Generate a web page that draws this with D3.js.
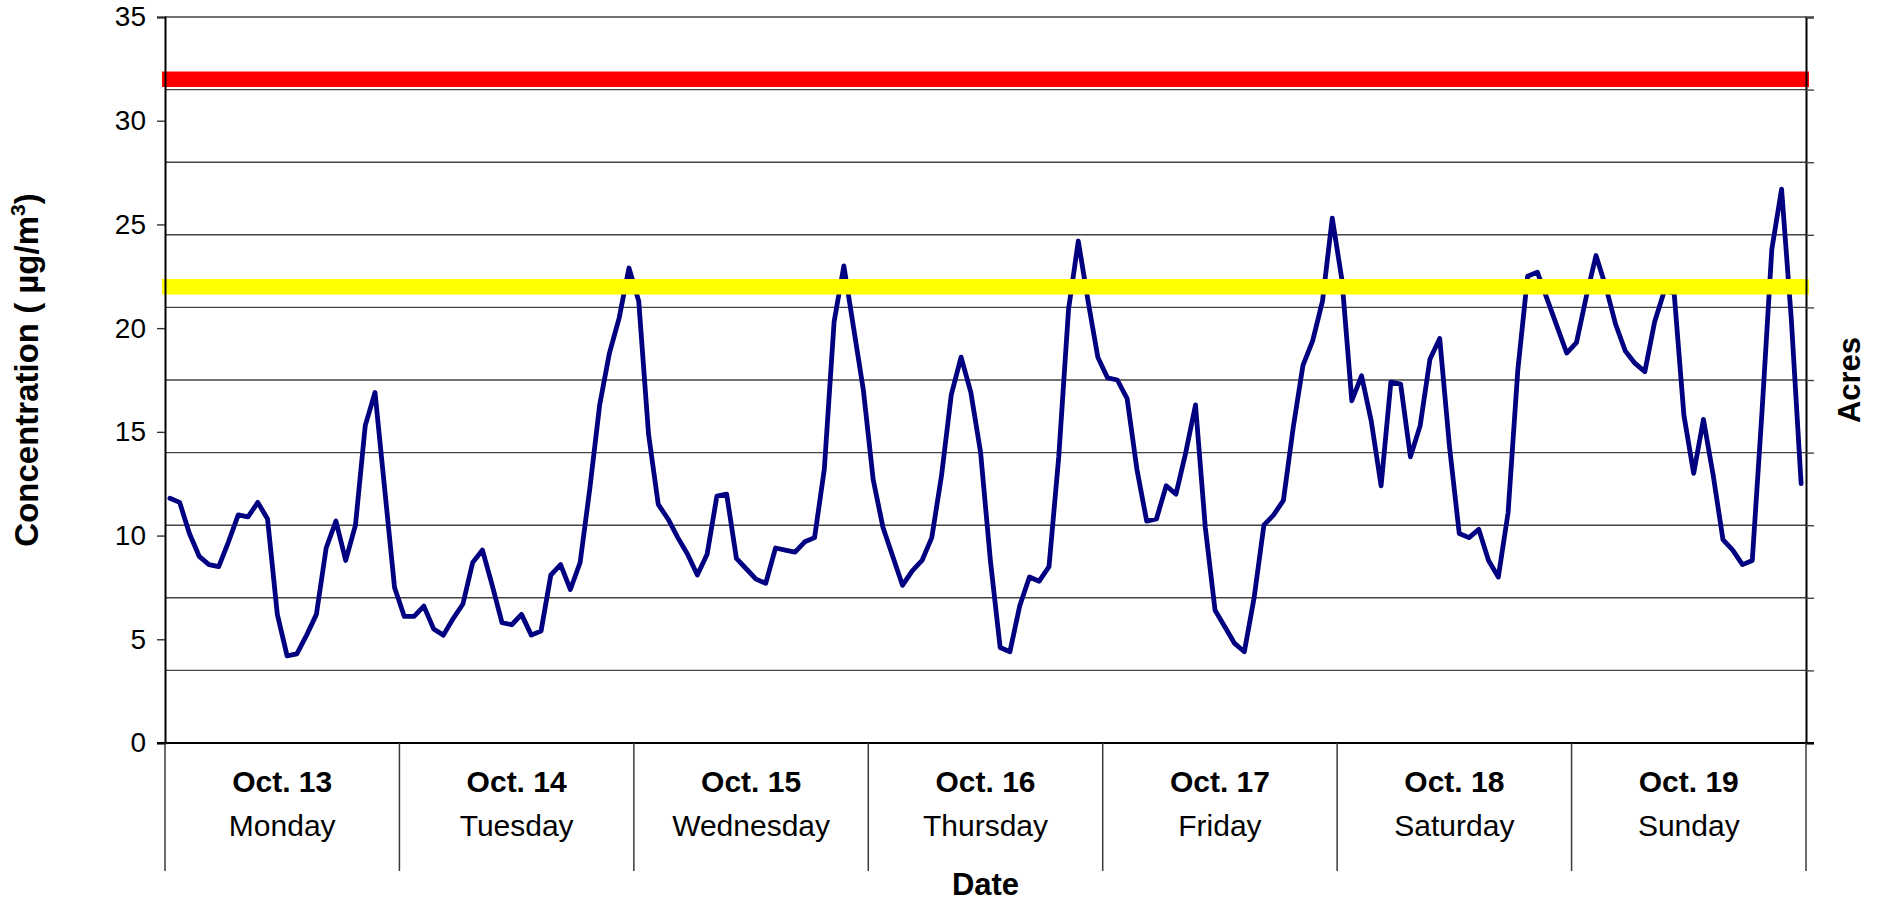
<!DOCTYPE html>
<html>
<head>
<meta charset="utf-8">
<script src="https://d3js.org/d3.v7.min.js"></script>
<style>
  body { margin: 0; background: #fff; }
  text { font-family: Arial, "Liberation Sans", sans-serif; }
</style>
</head>
<body>
<div id="chart"></div>
<script>
// categories
var dates = ["Oct. 13", "Oct. 14", "Oct. 15", "Oct. 16", "Oct. 17", "Oct. 18", "Oct. 19"]
var dayNames = ["Monday", "Tuesday", "Wednesday", "Thursday", "Friday", "Saturday", "Sunday"]

// hourly concentration, one array per day
var monday    = [11.8, 11.6, 10.1, 9.0, 8.6, 8.5, 9.7, 11.0, 10.9, 11.6, 10.8, 6.2, 4.2, 4.3, 5.2, 6.2, 9.4, 10.7, 8.8, 10.5, 15.3, 16.9, 12.2, 7.5]
var tuesday   = [6.1, 6.1, 6.6, 5.5, 5.2, 6.0, 6.7, 8.7, 9.3, 7.6, 5.8, 5.7, 6.2, 5.2, 5.4, 8.1, 8.6, 7.4, 8.7, 12.3, 16.3, 18.8, 20.5, 22.9]
var wednesday = [21.3, 14.9, 11.5, 10.8, 9.9, 9.1, 8.1, 9.1, 11.9, 12.0, 8.9, 8.4, 7.9, 7.7, 9.4, 9.3, 9.2, 9.7, 9.9, 13.2, 20.3, 23.0, 20.0, 17.0]
var thursday  = [12.7, 10.4, 9.0, 7.6, 8.3, 8.8, 9.9, 12.9, 16.8, 18.6, 16.9, 14.0, 8.8, 4.6, 4.4, 6.6, 8.0, 7.8, 8.5, 13.8, 20.9, 24.2, 21.3, 18.6]
var friday    = [17.6, 17.5, 16.6, 13.2, 10.7, 10.8, 12.4, 12.0, 14.0, 16.3, 10.4, 6.4, 5.6, 4.8, 4.4, 7.0, 10.5, 11.0, 11.7, 15.2, 18.2, 19.4, 21.3, 25.3]
var saturday  = [22.3, 16.5, 17.7, 15.5, 12.4, 17.4, 17.3, 13.8, 15.3, 18.5, 19.5, 14.3, 10.1, 9.9, 10.3, 8.8, 8.0, 11.1, 18.0, 22.5, 22.7, 21.4, 20.1, 18.8]
var sunday    = [19.3, 21.5, 23.5, 22.0, 20.2, 18.9, 18.3, 17.9, 20.3, 21.8, 21.7, 15.8, 13.0, 15.6, 12.9, 9.8, 9.3, 8.6, 8.8, 16.0, 23.8, 26.7, 20.4, 12.5]

// standard lines: red and yellow reference levels
var standards = [32, 22]

// tick labels
var yTicks = [0, 5, 10, 15, 20, 25, 30, 35]
var acresTicks = [0, 1, 2, 3, 4, 5, 6, 7, 8, 9, 10]

var hourly = [].concat(monday, tuesday, wednesday, thursday, friday, saturday, sunday)

// set the dimensions and margins of the graph
var margin = {top: 17, right: 77, bottom: 158, left: 165},
    width = 1883 - margin.left - margin.right,
    height = 901 - margin.top - margin.bottom;

var svg = d3.select("#chart")
  .append("svg")
    .attr("width", 1883)
    .attr("height", 901)
  .append("g")
    .attr("transform", "translate(" + margin.left + "," + margin.top + ")");

// scales
var xDay = d3.scaleBand()
  .domain(dates)
  .range([0, width])

var xHour = d3.scaleLinear()
  .domain([0, hourly.length])
  .range([0, width])

var y = d3.scaleLinear()
  .domain([0, 35])
  .range([height, 0])

var yAcres = d3.scaleLinear()
  .domain([0, 10])
  .range([height, 0])

// gridlines from the secondary axis
svg.append("g")
  .selectAll("line")
  .data(acresTicks)
  .enter()
  .append("line")
    .attr("x1", 0)
    .attr("x2", width)
    .attr("y1", d => yAcres(d))
    .attr("y2", d => yAcres(d))
    .attr("stroke", "#444")
    .attr("stroke-width", 1.4)

// concentration line
var line = d3.line()
  .x((d, i) => xHour(i + 0.5))
  .y(d => y(d))

svg.append("path")
  .datum(hourly)
  .attr("d", line)
  .attr("fill", "none")
  .attr("stroke", "#000080")
  .attr("stroke-width", 4.8)
  .attr("stroke-linejoin", "round")
  .attr("stroke-linecap", "round")

// standard lines
var stdColor = d3.scaleOrdinal()
  .domain(standards)
  .range(["#ff0000", "#ffff00"])

svg.append("g")
  .selectAll("line")
  .data(standards)
  .enter()
  .append("line")
    .attr("x1", -3)
    .attr("x2", width + 3)
    .attr("y1", d => y(d))
    .attr("y2", d => y(d))
    .attr("stroke", d => stdColor(d))
    .attr("stroke-width", 15.5)

// left axis
var yAxis = svg.append("g")
  .call(d3.axisLeft(y).tickValues(yTicks).tickSize(8).tickPadding(11))

yAxis.select(".domain").attr("stroke-width", 2)
yAxis.selectAll(".tick line").attr("stroke", "#333").attr("stroke-width", 1.4)
yAxis.selectAll("text")
  .style("font-size", "28px")
  .attr("fill", "#000")

// right axis (no labels)
var rAxis = svg.append("g")
  .attr("transform", "translate(" + width + ",0)")
  .call(d3.axisRight(yAcres).tickValues(acresTicks).tickSize(8).tickFormat(""))

rAxis.select(".domain").attr("stroke-width", 2)
rAxis.selectAll(".tick line").attr("stroke", "#444").attr("stroke-width", 1.4)

// bottom axis line
svg.append("line")
  .attr("x1", -8)
  .attr("x2", width + 8)
  .attr("y1", height)
  .attr("y2", height)
  .attr("stroke", "#000")
  .attr("stroke-width", 2)

// category separators
var bounds = dates.map(d => xDay(d)).concat([width])

svg.append("g")
  .selectAll("line")
  .data(bounds)
  .enter()
  .append("line")
    .attr("x1", d => d)
    .attr("x2", d => d)
    .attr("y1", height)
    .attr("y2", height + 128)
    .attr("stroke", "#3a3a3a")
    .attr("stroke-width", 1.5)

// category labels
var labels = svg.append("g")
  .selectAll("g")
  .data(dates)
  .enter()
  .append("g")
    .attr("transform", d => "translate(" + (xDay(d) + xDay.bandwidth() / 2) + "," + height + ")")

labels.append("text")
  .attr("y", 49)
  .attr("text-anchor", "middle")
  .style("font-size", "30px")
  .style("font-weight", "bold")
  .text(d => d)

labels.append("text")
  .attr("y", 93)
  .attr("text-anchor", "middle")
  .style("font-size", "30px")
  .text((d, i) => dayNames[i])

// axis titles
svg.append("text")
  .attr("text-anchor", "middle")
  .attr("x", width / 2)
  .attr("y", height + 152)
  .style("font-size", "31px")
  .style("font-weight", "bold")
  .text("Date")

var yTitle = svg.append("text")
  .attr("text-anchor", "middle")
  .attr("transform", "translate(" + (-127) + "," + (height / 2 - 10) + ") rotate(-90)")
  .style("font-size", "33px")
  .style("font-weight", "bold")

yTitle.append("tspan").text("Concentration ( µg/m")
yTitle.append("tspan")
  .attr("dy", -13)
  .style("font-size", "21px")
  .text("3")
yTitle.append("tspan")
  .attr("dy", 13)
  .text(")")

svg.append("text")
  .attr("text-anchor", "middle")
  .attr("transform", "translate(" + (width + 54) + "," + (height / 2) + ") rotate(-90)")
  .style("font-size", "31px")
  .style("font-weight", "bold")
  .text("Acres")
</script>
</body>
</html>
